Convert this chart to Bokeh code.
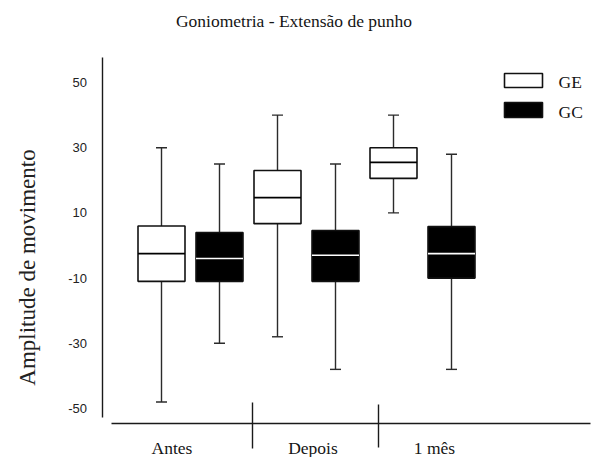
from math import pi
from bokeh.plotting import figure
from bokeh.models import Range1d, ColumnDataSource
from bokeh.core.properties import value
from bokeh.embed import file_html
from bokeh.resources import INLINE

# ---------------- data ----------------
groups = ["Antes", "Depois", "1 mês"]
series = ["GE", "GC"]
y_ticks = [-50, -30, -10, 10, 30, 50]
y_tick_labels = ["-50", "-30", "-10", "10", "30", "50"]

ge_whisker_hi = [30, 40, 40]
ge_q3 = [6, 23, 30]
ge_median = [-2.5, 14.7, 25.5]
ge_q1 = [-11, 6.7, 20.6]
ge_whisker_lo = [-48, -28, 10]

gc_whisker_hi = [25, 25, 28]
gc_q3 = [4, 4.6, 5.8]
gc_median = [-4, -3, -2.5]
gc_q1 = [-11, -11, -10]
gc_whisker_lo = [-30, -38, -38]

title_text = "Goniometria - Extensão de punho"
y_label_text = "Amplitude de movimento"

# ---------------- layout helpers (picture pixel -> data) ----------------
W, H = 592, 457
PX_PER_X = 58.0          # px per box slot
PX_PER_Y = 3.26          # px per unit
X0_PX, Y0_PX = 161.0, 82.0   # px of slot 1 / value 50


def ux(px):
    return 1 + (px - X0_PX) / PX_PER_X


def vy(py):
    return 50 - (py - Y0_PX) / PX_PER_Y


p = figure(width=W, height=H, output_backend="svg", toolbar_location=None,
           x_range=Range1d(ux(0), ux(W)),
           y_range=Range1d(vy(H), vy(0)),
           min_border_left=0, min_border_right=0,
           min_border_top=0, min_border_bottom=0)
p.background_fill_color = "white"
p.border_fill_color = "white"
p.outline_line_color = None
p.grid.visible = False
p.axis.visible = False

SERIF = value("Liberation Serif")
TXT = "#151515"

# ---------------- boxes ----------------
box_w = 47 / PX_PER_X
cap_w = 11 / PX_PER_X
n = len(groups)
ge_x = [1 + 2 * i for i in range(n)]
gc_x = [2 + 2 * i for i in range(n)]

whisker_color = "#2b2b2b"
for xs, hi, q3, med, q1, lo, fill, med_col in [
    (ge_x, ge_whisker_hi, ge_q3, ge_median, ge_q1, ge_whisker_lo, "white", "black"),
    (gc_x, gc_whisker_hi, gc_q3, gc_median, gc_q1, gc_whisker_lo, "black", "white"),
]:
    src = ColumnDataSource(dict(
        x=xs, hi=hi, q3=q3, med=med, q1=q1, lo=lo,
        left=[x - box_w / 2 for x in xs], right=[x + box_w / 2 for x in xs],
        cl=[x - cap_w / 2 for x in xs], cr=[x + cap_w / 2 for x in xs]))
    p.segment(x0="x", y0="q3", x1="x", y1="hi", source=src, line_color=whisker_color, line_width=1.4)
    p.segment(x0="x", y0="q1", x1="x", y1="lo", source=src, line_color=whisker_color, line_width=1.4)
    p.segment(x0="cl", y0="hi", x1="cr", y1="hi", source=src, line_color=whisker_color, line_width=1.4)
    p.segment(x0="cl", y0="lo", x1="cr", y1="lo", source=src, line_color=whisker_color, line_width=1.4)
    p.quad(left="left", right="right", bottom="q1", top="q3", source=src,
           fill_color=fill, line_color="#111111", line_width=1.6)
    p.segment(x0="left", y0="med", x1="right", y1="med", source=src,
              line_color=med_col, line_width=1.6)

# ---------------- axes lines & separators ----------------
axis_col = "#1a1a1a"
p.segment(x0=[ux(102)], y0=[vy(57)], x1=[ux(102)], y1=[vy(417)], line_color=axis_col, line_width=1.4)
p.segment(x0=[ux(111)], y0=[vy(423)], x1=[ux(590)], y1=[vy(423)], line_color=axis_col, line_width=1.4)
p.segment(x0=[ux(252), ux(378)], y0=[vy(402), vy(404)], x1=[ux(252), ux(378)], y1=[vy(448), vy(447)],
          line_color=axis_col, line_width=1.4)

# y tick labels
p.text(x=[ux(86.5)] * len(y_ticks), y=y_ticks, text=y_tick_labels,
       text_font=value("Liberation Sans"), text_font_size=value("13px"),
       text_align="right", text_baseline="middle", text_color="#222222")

# category labels
cat_px = [171.5, 312.5, 434]
p.text(x=[ux(c) for c in cat_px], y=[vy(447)] * n, text=groups,
       text_font=SERIF, text_font_size=value("17.5px"),
       text_align="center", text_baseline="middle", text_color=TXT)

# title
p.text(x=[ux(293.5)], y=[vy(20)], text=[title_text],
       text_font=SERIF, text_font_size=value("17.5px"),
       text_align="center", text_baseline="middle", text_color=TXT)

# legend
p.quad(left=[ux(504)], right=[ux(542)], top=[vy(73)], bottom=[vy(87)],
       fill_color="white", line_color="#111111", line_width=1.6)
p.quad(left=[ux(504)], right=[ux(542)], top=[vy(102)], bottom=[vy(117)],
       fill_color="black", line_color="#111111", line_width=1.6)
p.text(x=[ux(558), ux(558)], y=[vy(81.5), vy(111)], text=series,
       text_font=SERIF, text_font_size=value("17.5px"),
       text_align="left", text_baseline="middle", text_color=TXT)

# y axis label
p.text(x=[ux(26.5)], y=[vy(267)], text=[y_label_text], angle=pi / 2,
       text_font=SERIF, text_font_size=value("23px"),
       text_align="center", text_baseline="middle", text_color="#222222")

open("out.html", "w").write(file_html(p, INLINE))
